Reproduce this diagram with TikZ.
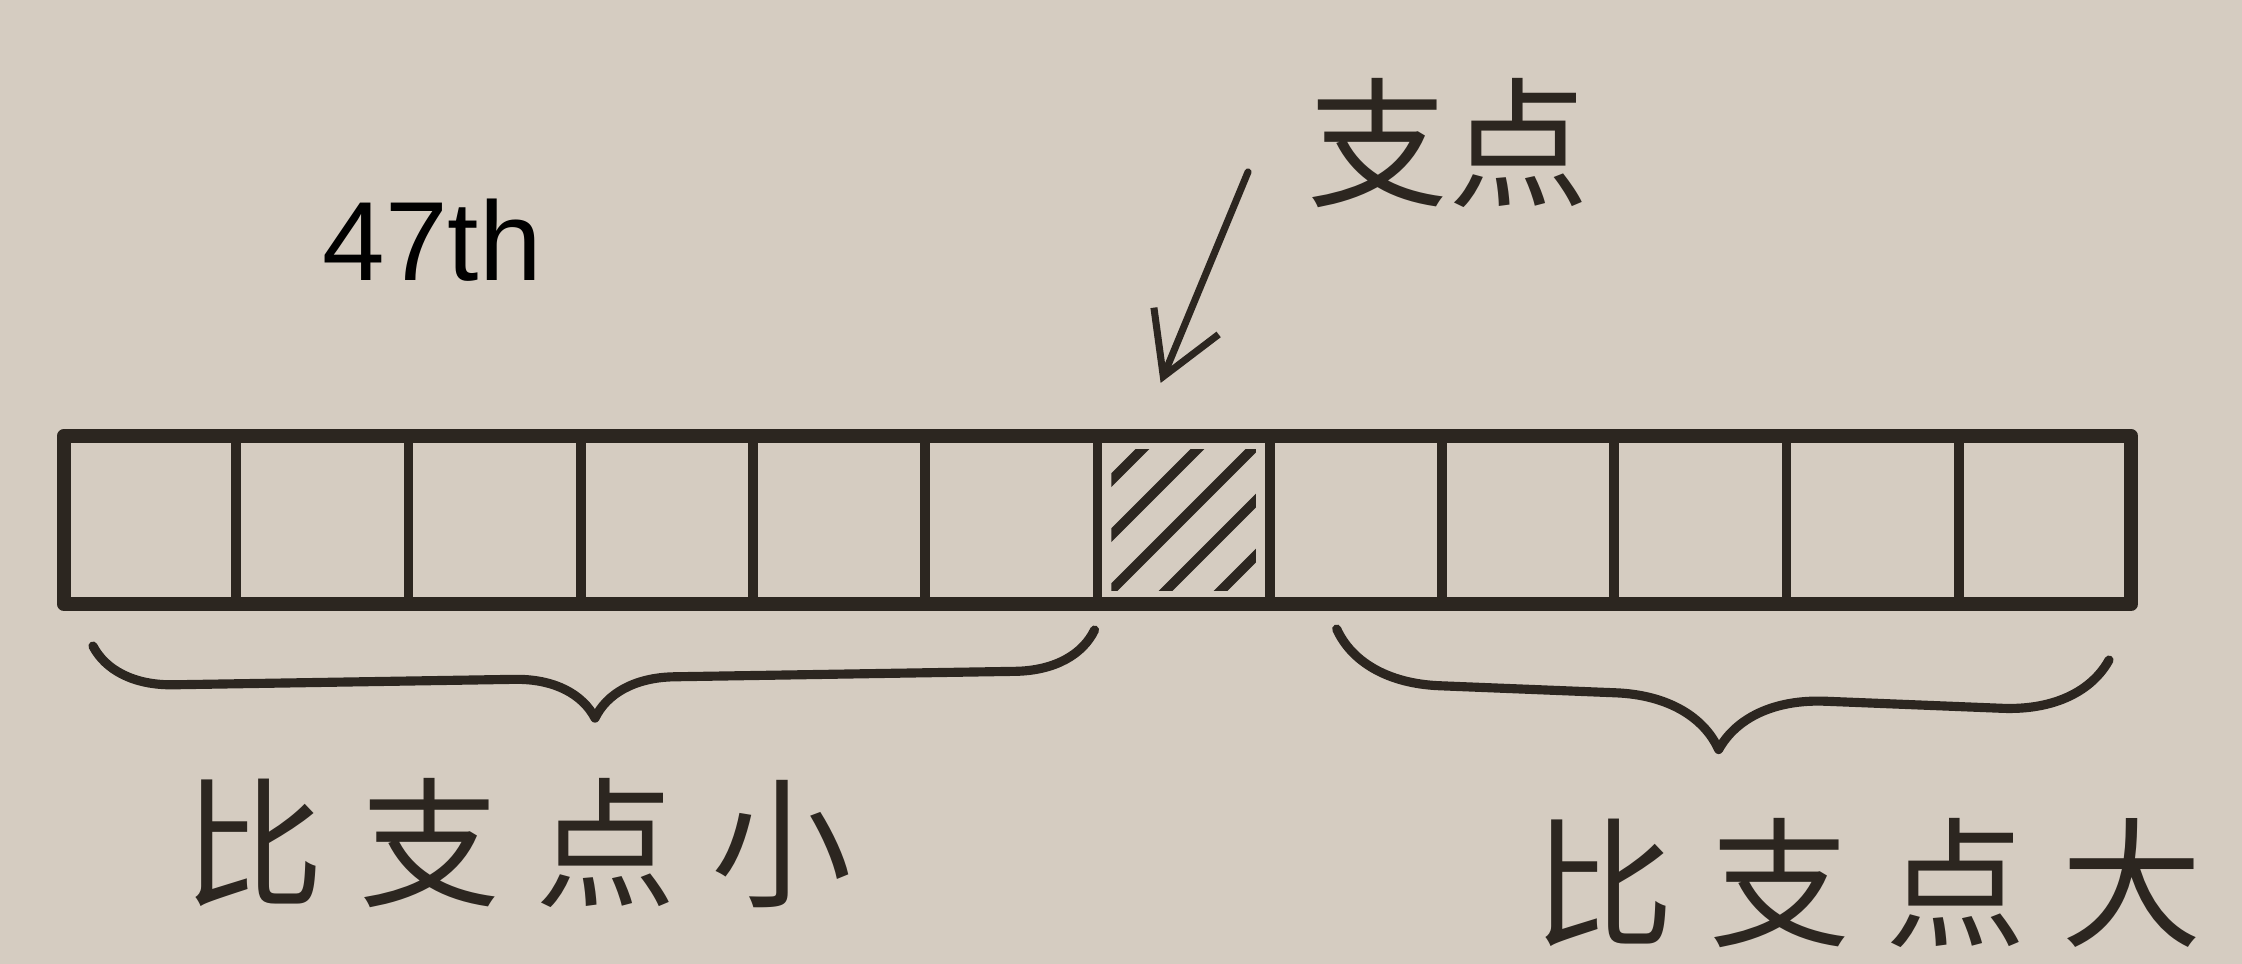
\documentclass[tikz,border=0pt]{standalone}
\usepackage{fontspec}
\setmainfont{Liberation Sans}
\newfontfamily\cjk{Noto Sans CJK SC}
\newfontfamily\cjkwide[LetterSpace=25]{Noto Sans CJK SC}
\usepackage{xcolor}
\usetikzlibrary{arrows.meta,decorations.pathreplacing,calc}
\definecolor{paper}{RGB}{213,204,193}
\definecolor{ink}{RGB}{44,38,32}
\tikzset{
  CB/.style={draw=ink, rectangle, minimum width=1.7225cm,
             minimum height=1.68cm, inner sep=0pt, outer sep=0pt,
             line width=2.8pt},
  BR/.style={decorate, decoration={brace, mirror, amplitude=#1},
             draw=ink, line width=2.6pt, line cap=round, line join=round},
  BR/.default=0.8cm,
  PA/.style={-{Straight Barb[length=6mm, width=7mm]}, draw=ink,
             line width=2pt, line cap=round}
}

\begin{document}
\begin{tikzpicture}[
  x=0.01cm, y=-0.01cm,
  CL/.style={text=ink, inner sep=0pt,
             font=\cjk\fontsize{40}{48}\selectfont},
  WL/.style={text=ink, inner sep=0pt,
             font=\cjkwide\fontsize{40}{48}\selectfont},
  HL/.style={draw=ink, line width=2.8pt, line cap=round}
]

% Paper
\path[use as bounding box, fill=paper] (0,0) rectangle (2242,964);

% Title
\node[anchor=base west, inner sep=0pt, font=\fontsize{32}{38}\selectfont]
    (rank) at (322,281) {47th};

% Array cells
\foreach \i in {1,...,12}
  \node[CB] (c\i) at ({64+172.25*(\i-0.5)}, 520) {};
\draw[ink, line width=4pt, line join=round] (c1.north west) rectangle (c12.south east);

% Pivot cell hatching
\begin{scope}
  \clip ([shift={(14,14)}]c7.north west) rectangle ([shift={(-14,-14)}]c7.south east);
  \foreach \d in {-110,-55,0,55,110}
    \draw[HL] ($(c7.south west)+(\d,0)$) -- ++(300,-300);
\end{scope}

% Pivot label and pointer
\node[CL] (pivot) at (1448,143) {支点};
\coordinate (tail) at (1248,172);
\draw[PA] (tail) -- ([shift={(-23,-53)}]c7.north);

% Braces
\draw[BR] ([shift={(29,42)}]c1.south west) -- ([shift={(-3,26)}]c6.south east);
\draw[BR=1.05cm] ([shift={(67,25)}]c8.south west) -- ([shift={(-22,56)}]c12.south east);

% Partition labels
\node[WL] (less) at (518,843) {比支点小};
\node[WL] (more) at (1868,883) {比支点大};

\end{tikzpicture}
\end{document}
